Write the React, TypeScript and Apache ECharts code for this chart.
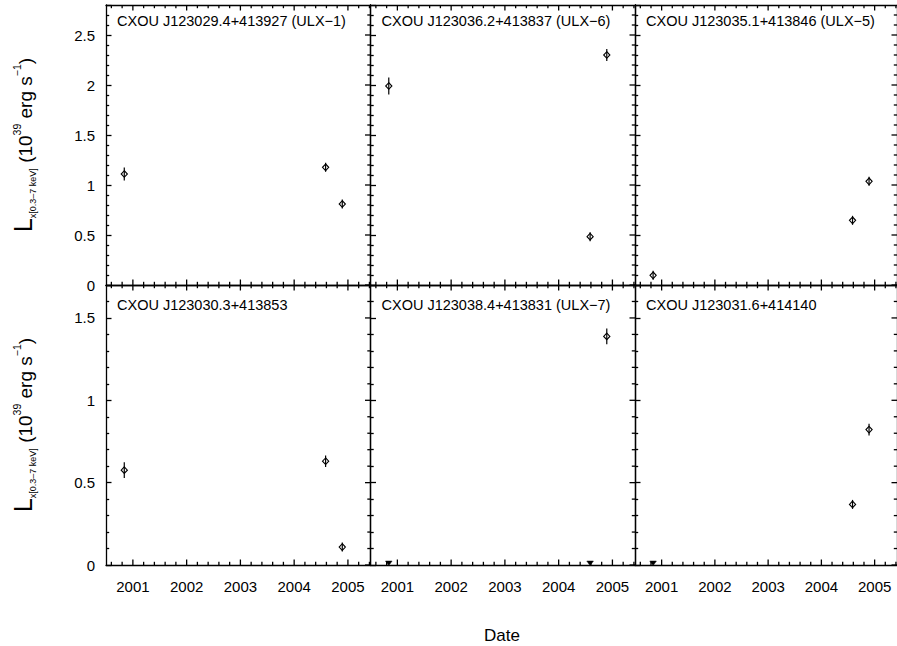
import React, { useEffect, useRef } from 'react';
import * as echarts from 'echarts';

// ---------- data ----------
const panelTitles = [
  'CXOU J123029.4+413927 (ULX\u22121)',
  'CXOU J123036.2+413837 (ULX\u22126)',
  'CXOU J123035.1+413846 (ULX\u22125)',
  'CXOU J123030.3+413853',
  'CXOU J123038.4+413831 (ULX\u22127)',
  'CXOU J123031.6+414140',
];
// observation epochs (decimal years)
const obsDates = [2000.84, 2004.585, 2004.895];

// luminosities (1e39 erg/s) and 1-sigma errors
const ulx1Lum = [1.11, 1.177, 0.81];
const ulx1Err = [0.065, 0.04, 0.025];
const ulx6Lum = [1.99, 0.483, 2.3];
const ulx6Err = [0.085, 0.025, 0.06];
const ulx5Lum = [0.097, 0.647, 1.037];
const ulx5Err = [0.015, 0.02, 0.025];
const src4Lum = [0.576, 0.63, 0.109];
const src4Err = [0.048, 0.035, 0.015];
const ulx7Lum = [1.388];
const ulx7Err = [0.048];
const ulx7LumIdx = [2];
const ulx7LimIdx = [0, 1];
const ulx7Lim = [0.024, 0.024];
const src6Lum = [0.368, 0.822];
const src6Err = [0.02, 0.035];
const src6LumIdx = [1, 2];
const src6LimIdx = [0];
const src6Lim = [0.024];

const yearTicks = [2001, 2002, 2003, 2004, 2005];
const yTicksTop = [0, 0.5, 1, 1.5, 2, 2.5];
const yTicksBottom = [0, 0.5, 1, 1.5];
const X_MIN = 2000.5;
const X_MAX = 2005.42;
const Y_MAX_TOP = 2.8;
const Y_MAX_BOTTOM = 1.7;

type Panel = {
  title: string;
  det: { idx: number[]; lum: number[]; err: number[] };
  lim: { idx: number[]; lum: number[] };
};

const panels: Panel[] = [
  { title: panelTitles[0], det: { idx: [0, 1, 2], lum: ulx1Lum, err: ulx1Err }, lim: { idx: [], lum: [] } },
  { title: panelTitles[1], det: { idx: [0, 1, 2], lum: ulx6Lum, err: ulx6Err }, lim: { idx: [], lum: [] } },
  { title: panelTitles[2], det: { idx: [0, 1, 2], lum: ulx5Lum, err: ulx5Err }, lim: { idx: [], lum: [] } },
  { title: panelTitles[3], det: { idx: [0, 1, 2], lum: src4Lum, err: src4Err }, lim: { idx: [], lum: [] } },
  { title: panelTitles[4], det: { idx: ulx7LumIdx, lum: ulx7Lum, err: ulx7Err }, lim: { idx: ulx7LimIdx, lum: ulx7Lim } },
  { title: panelTitles[5], det: { idx: src6LumIdx, lum: src6Lum, err: src6Err }, lim: { idx: src6LimIdx, lum: src6Lim } },
];

const FONT = '"Liberation Sans", Arial, Helvetica, sans-serif';

function minorValues(lo: number, hi: number, step: number, major: number): number[] {
  const out: number[] = [];
  const n = Math.round((hi - lo) / step);
  for (let i = 0; i <= n; i++) {
    const v = Math.round((lo + i * step) * 1000) / 1000;
    if (Math.abs(v / major - Math.round(v / major)) > 1e-6) out.push(v);
  }
  return out;
}

function buildYTitle(cx: number, cy: number) {
  const canvas = document.createElement('canvas');
  const ctx = canvas.getContext('2d')!;
  const pieces = [
    { t: 'L', s: 25, dy: -2 },
    { t: 'x[0.3\u20137 keV]', s: 9, dy: 7.5 },
    { t: ' (10', s: 19, dy: 0 },
    { t: '39', s: 10.5, dy: -8 },
    { t: ' erg s', s: 19, dy: 0 },
    { t: '\u22121', s: 10.5, dy: -8 },
    { t: ')', s: 19, dy: 0 },
  ];
  const widths = pieces.map((p) => {
    ctx.font = `${p.s}px ${FONT}`;
    return ctx.measureText(p.t).width;
  });
  const total = widths.reduce((a, b) => a + b, 0);
  let x = -total / 2;
  const children = pieces.map((p, i) => {
    const el = {
      type: 'text',
      x,
      y: p.dy,
      style: {
        text: p.t,
        fontSize: p.s,
        fontFamily: FONT,
        fill: '#000',
        align: 'left',
        verticalAlign: 'middle',
      },
    };
    x += widths[i];
    return el;
  });
  return { type: 'group', x: cx, y: cy, rotation: Math.PI / 2, children };
}

function tickPoly(x1: number, y1: number, x2: number, y2: number, w: number) {
  const h = w / 2;
  if (x1 === x2) {
    return [[x1 - h, y1], [x1 + h, y1], [x2 + h, y2], [x2 - h, y2]];
  }
  return [[x1, y1 - h], [x2, y2 - h], [x2, y2 + h], [x1, y1 + h]];
}

export default function App() {
  const ref = useRef<HTMLDivElement>(null);
  useEffect(() => {
    document.body.style.margin = '0';
    const chart = echarts.init(ref.current!, undefined, { renderer: 'svg' });
    const lefts = [106, 370.5, 635];
    const W = 264.5;
    const tops = [5, 285];
    const H = 280;
    const grids: any[] = [];
    const xAxes: any[] = [];
    const yAxes: any[] = [];
    const series: any[] = [];
    const graphics: any[] = [];
    const xMinor = minorValues(2000.6, 2005.4, 0.2, 1);
    const MAJ = 5.5;
    const MIN = 3.2;
    const TW = 1.3;
    const X_MID = (X_MIN + X_MAX) / 2;
    const axisLineStyle = { color: '#000', width: 1.3 };

    panels.forEach((p, g) => {
      const row = Math.floor(g / 3);
      const col = g % 3;
      grids.push({ left: lefts[col], top: tops[row], width: W, height: H, containLabel: false });
      const yMax = row === 0 ? Y_MAX_TOP : Y_MAX_BOTTOM;
      const yMaj = row === 0 ? yTicksTop : yTicksBottom;
      const yMin = minorValues(0.1, yMax, 0.1, 0.5).filter((v) => v < yMax - 1e-6);

      xAxes.push({
        type: 'value', gridIndex: g, min: X_MIN, max: X_MAX, position: 'bottom',
        splitLine: { show: false },
        axisTick: { show: false },
        axisLine: { show: true, onZero: false, lineStyle: { ...axisLineStyle } },
        axisLabel: row === 1
          ? { show: true, customValues: yearTicks, margin: 14, fontSize: 15, fontFamily: FONT, color: '#000', formatter: (v: number) => String(Math.round(v)) }
          : { show: false },
      });
      xAxes.push({
        type: 'value', gridIndex: g, min: X_MIN, max: X_MAX, position: 'top',
        splitLine: { show: false }, axisTick: { show: false }, axisLabel: { show: false },
        axisLine: { show: true, onZero: false, lineStyle: { ...axisLineStyle } },
      });
      // y axes: native ticks (min 0 is a multiple of the 0.5 interval)
      const yTickCfg = { show: true, inside: true, length: MAJ, lineStyle: { color: '#000', width: TW } };
      const yMinorCfg = { show: true, splitNumber: 5, length: MIN, lineStyle: { color: '#000', width: TW } };
      yAxes.push({
        type: 'value', gridIndex: g, min: 0, max: yMax, interval: 0.5, position: 'left',
        splitLine: { show: false },
        minorSplitLine: { show: false },
        axisTick: yTickCfg,
        minorTick: yMinorCfg,
        axisLine: { show: true, onZero: false, lineStyle: { ...axisLineStyle } },
        axisLabel: col === 0
          ? {
              show: true, margin: 11, fontSize: 15, fontFamily: FONT, color: '#000',
              showMaxLabel: false,
              formatter: (v: number) => (yMaj.some((t) => Math.abs(t - v) < 1e-6) ? String(v) : ''),
            }
          : { show: false },
      });
      yAxes.push({
        type: 'value', gridIndex: g, min: 0, max: yMax, interval: 0.5, position: 'right',
        splitLine: { show: false }, minorSplitLine: { show: false },
        axisTick: { show: false }, axisLabel: { show: false },
        axisLine: { show: true, onZero: false, lineStyle: { ...axisLineStyle } },
      });

      // remaining tick marks, positioned through the axes' scales
      // item: [x, y, kind]; kind 0 x-major, 1 x-minor, 2 y-major, 3 y-minor
      const yMid = yMax / 2;
      const tickData: number[][] = [
        ...yearTicks.map((v) => [v, yMid, 0]),
        ...xMinor.map((v) => [v, yMid, 1]),
        ...yMaj.map((v) => [X_MID, v, 2]),
        ...yMin.map((v) => [X_MID, v, 3]),
      ];
      series.push({
        type: 'custom',
        xAxisIndex: 2 * g,
        yAxisIndex: 2 * g,
        clip: false,
        data: tickData,
        encode: { x: 0, y: 1 },
        renderItem: (_params: any, api: any) => {
          const kind = api.value(2);
          const len = kind === 0 || kind === 2 ? MAJ : MIN;
          const st = () => ({ fill: '#000', stroke: 'none' });
          if (kind <= 1) {
            const xv = api.value(0);
            const b = api.coord([xv, 0]);
            const t = api.coord([xv, yMax]);
            return {
              type: 'group',
              children: [
                { type: 'polygon', shape: { points: tickPoly(b[0], b[1], b[0], b[1] - len, TW) }, style: st() },
                { type: 'polygon', shape: { points: tickPoly(t[0], t[1], t[0], t[1] + len, TW) }, style: st() },
              ],
            };
          }
          const yv = api.value(1);
          const r = api.coord([X_MAX, yv]);
          return {
            type: 'polygon',
            shape: { points: tickPoly(r[0] - len, r[1], r[0], r[1], TW) },
            style: st(),
          };
        },
      });

      series.push({
        type: 'custom',
        xAxisIndex: 2 * g,
        yAxisIndex: 2 * g,
        clip: false,
        data: p.det.idx.map((di, k) => [obsDates[di], p.det.lum[k], p.det.err[k]]),
        encode: { x: 0, y: 1 },
        renderItem: (_params: any, api: any) => {
          const x = api.value(0);
          const y = api.value(1);
          const e = api.value(2);
          const c = api.coord([x, y]);
          const lo = api.coord([x, y - e]);
          const hi = api.coord([x, y + e]);
          const y1 = Math.max(lo[1], c[1] + 4.5);
          const y2 = Math.min(hi[1], c[1] - 4.5);
          return {
            type: 'group',
            children: [
              { type: 'line', shape: { x1: c[0], y1, x2: c[0], y2 }, style: { stroke: '#000', lineWidth: 1.2 } },
              {
                type: 'polygon',
                shape: { points: [[c[0], c[1] - 3.3], [c[0] + 3.1, c[1]], [c[0], c[1] + 3.3], [c[0] - 3.1, c[1]]] },
                style: { fill: 'none', stroke: '#000', lineWidth: 1.1 },
              },
            ],
          };
        },
      });
      if (p.lim.idx.length) {
        series.push({
          type: 'custom',
          xAxisIndex: 2 * g,
          yAxisIndex: 2 * g,
          clip: false,
          data: p.lim.idx.map((di, k) => [obsDates[di], p.lim.lum[k]]),
          encode: { x: 0, y: 1 },
          renderItem: (_params: any, api: any) => {
            const c = api.coord([api.value(0), api.value(1)]);
            return {
              type: 'polygon',
              shape: { points: [[c[0] - 3.3, c[1]], [c[0] + 3.3, c[1]], [c[0], c[1] + 4.5]] },
              style: { fill: '#000', stroke: '#000', lineWidth: 0.5 },
            };
          },
        });
      }
      graphics.push({
        type: 'text',
        x: lefts[col] + 11,
        y: row === 0 ? 20.7 : 305,
        style: {
          text: p.title, fontSize: 14.5, fontFamily: FONT, fill: '#000',
          align: 'left', verticalAlign: 'middle',
        },
      });
    });

    graphics.push(buildYTitle(25, 145));
    graphics.push(buildYTitle(25, 425));
    graphics.push({
      type: 'text',
      x: 502,
      y: 635,
      style: { text: 'Date', fontSize: 17, fontFamily: FONT, fill: '#000', align: 'center', verticalAlign: 'middle' },
    });

    chart.setOption({
      animation: false,
      backgroundColor: '#fff',
      grid: grids,
      xAxis: xAxes,
      yAxis: yAxes,
      series,
      graphic: graphics,
    });
    return () => chart.dispose();
  }, []);
  return (
    <div
      ref={ref}
      style={{ position: 'absolute', left: 0, top: 0, width: 897, height: 646, background: '#fff' }}
    />
  );
}
